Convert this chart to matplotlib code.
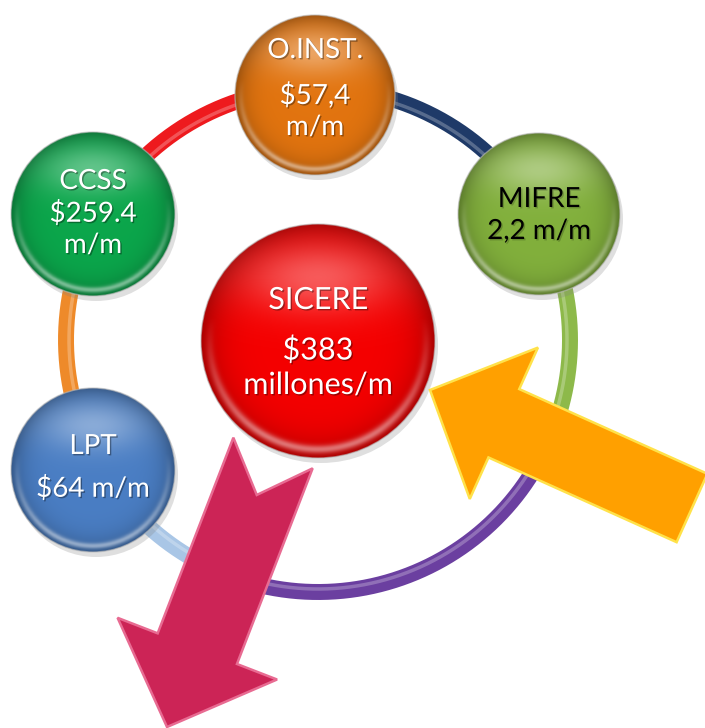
import numpy as np
import matplotlib
matplotlib.use('Agg')
import matplotlib.pyplot as plt
from matplotlib.patches import Circle, Polygon
import matplotlib.patheffects as pe

plt.rcParams['font.family'] = ['Lato', 'DejaVu Sans']

# textos de los nodos (nombre y monto)
nombres = ['O.INST.', 'MIFRE', 'CCSS', 'LPT', 'SICERE']
montos = [['$57,4', 'm/m'], ['2,2 m/m'], ['$259.4', 'm/m'], ['$64 m/m'], ['$383', 'millones/m']]
colores = ['#E2740F', '#82B03C', '#0BA64B', '#4A7EC4', '#F50000']
color_texto = ['white', 'black', 'white', 'white', 'white']

# tramos del anillo: angulo inicial, final y color
tramo_ini = [30, 90, 150, 210, 250, -25]
tramo_fin = [90, 150, 210, 250, 335, 30]
tramo_color = ['#1F3A68', '#EE1A1E', '#EE8A2A', '#A9C6E6', '#6B3FA0', '#8DB94A']

# posiciones (pixeles) de cada nodo y de sus lineas de texto
centros = [(315, 95), (539, 214), (93, 214), (93, 470), (318, 341)]
radios = [80, 81, 82, 82, 117]
y_lineas = [[50, 95, 127], [199, 231], [181, 213, 245], [446, 488], [300, 350, 385]]
tam_letra = [20, 20, 20, 20, 22]

fig = plt.figure(figsize=(7.05, 7.28), dpi=100)
ax = fig.add_axes([0, 0, 1, 1])
ax.set_xlim(0, 705)
ax.set_ylim(728, 0)
ax.axis('off')

# anillo
cx, cy, R = 318, 340, 252
for a0, a1, c in zip(tramo_ini, tramo_fin, tramo_color):
    t = np.radians(np.linspace(a0, a1, 200))
    ax.plot(cx + R*np.cos(t), cy - R*np.sin(t), color=c, lw=11.5, solid_capstyle='butt', zorder=1)
    ax.plot(cx + (R-3)*np.cos(t), cy - (R-3)*np.sin(t), color='white', alpha=0.25, lw=2.5,
            solid_capstyle='butt', zorder=1)


def boton(x0, y0, r, color):
    # sombra
    ax.add_patch(Circle((x0 + 3, y0 + 5), r, color='gray', alpha=0.25, lw=0, zorder=2))
    n = 200
    xs = np.linspace(-1, 1, n)
    X, Y = np.meshgrid(xs, xs)
    d = np.sqrt(X**2 + Y**2)
    base = np.array(matplotlib.colors.to_rgb(color))
    img = np.ones((n, n, 4))
    f = 1 - 0.30*d**6
    col = base[None, None, :] * f[..., None]
    brillo = 0.35*np.exp(-((X/0.65)**2 + ((Y + 0.55)/0.3)**2))
    borde = 0.45*np.exp(-((d - 0.93)/0.035)**2) * np.clip(Y + 0.2, 0, 1)
    w = np.clip(brillo + borde, 0, 1)[..., None]
    col = col*(1 - w) + w
    img[..., :3] = np.clip(col, 0, 1)
    im = ax.imshow(img, extent=(x0 - r, x0 + r, y0 + r, y0 - r), origin='upper',
                   zorder=3, interpolation='bilinear')
    clip = Circle((x0, y0), r, transform=ax.transData)
    im.set_clip_path(clip)
    ax.add_patch(Circle((x0, y0), r, fill=False, ec='#BBBBBB', lw=1, alpha=0.6, zorder=3))


for (x0, y0), r, c in zip(centros, radios, colores):
    boton(x0, y0, r, c)

for i in range(len(nombres)):
    lineas = [nombres[i]] + montos[i]
    x0 = centros[i][0]
    a = 0.2 if color_texto[i] == 'black' else 0.35
    sombra = [pe.withSimplePatchShadow(offset=(1, -1), shadow_rgbFace='black', alpha=a)]
    for texto, y in zip(lineas, y_lineas[i]):
        ax.text(x0, y, texto, ha='center', va='center', fontsize=tam_letra[i],
                color=color_texto[i], zorder=6, path_effects=sombra)


def flecha(cola, punta, ancho, ancho_cabeza, largo_cabeza, muesca, color, borde):
    cola = np.array(cola, float)
    punta = np.array(punta, float)
    u = (punta - cola) / np.linalg.norm(punta - cola)
    p = np.array([-u[1], u[0]])
    base = punta - largo_cabeza*u
    pts = [cola + ancho/2*p, base + ancho/2*p, base + ancho_cabeza/2*p, punta,
           base - ancho_cabeza/2*p, base - ancho/2*p, cola - ancho/2*p]
    if muesca:
        pts.append(cola + muesca*u)
    ax.add_patch(Polygon(pts, closed=True, fc=color, ec=borde, lw=1.8, joinstyle='miter', zorder=5))


flecha((273, 453), (167, 727), 85, 171, 84, 45, '#CC2456', '#E86B92')
flecha((692, 508), (430, 390), 75, 166, 81, 0, '#FFA000', '#FFE24A')

fig.savefig('out.png', dpi=100)
